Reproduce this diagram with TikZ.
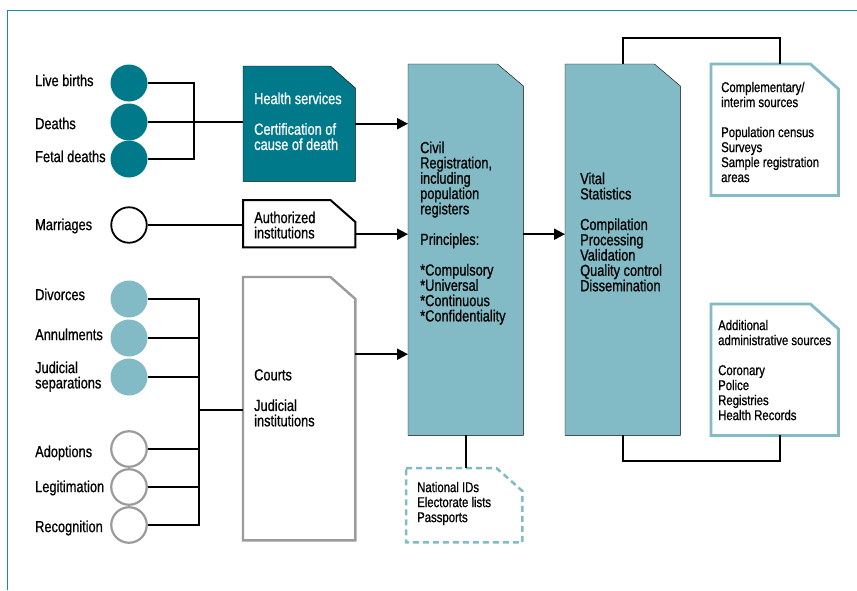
\documentclass[tikz,border=0pt]{standalone}
\usepackage{fontspec}
\setmainfont{Liberation Sans}[FakeStretch=0.8,FakeBold=0.8]
\usetikzlibrary{arrows.meta}

\definecolor{tealdark}{RGB}{0,121,138}
\definecolor{teallight}{RGB}{130,187,197}
\definecolor{framecol}{RGB}{30,138,155}
\definecolor{greyline}{RGB}{155,155,155}

% sheet with a cut top right corner, drawn round a named area node
\newcommand{\cutbox}[4][]{%
  \draw[#1] (#2.north west) -- ([xshift=-#3pt]#2.north east)
    -- ([yshift=-#4pt]#2.north east) -- (#2.south east)
    -- (#2.south west) -- cycle;}

\tikzset{
  lbl/.style={anchor=north west, inner sep=0pt, align=left, font=\fontsize{16}{15.3}\selectfont},
  note/.style={lbl, font=\fontsize{14.2}{15}\selectfont},
  evt/.style={circle, minimum size=37pt, inner sep=0pt},
  evtdark/.style={evt, fill=tealdark},
  evtlight/.style={evt, fill=teallight},
  evtopen/.style={evt, minimum size=35.5pt, draw=black, line width=1.8pt, fill=white},
  evtgrey/.style={evt, minimum size=35.5pt, draw=greyline, line width=2.2pt, fill=white},
  area/.style={anchor=north west, inner sep=0pt, draw=none},
  conn/.style={line width=2.1pt},
  arr/.style={conn, -{Triangle[length=11pt,width=11pt]}}
}

\begin{document}
\begin{tikzpicture}[x=1pt,y=-1pt]
\useasboundingbox (0,0) rectangle (857,590);
\draw[framecol, line width=1pt] (7,590) -- (7,10) -- (857,10);

% events
\node[evtdark] (live) at (129,83) {};
\node[evtdark] (deaths) at (129,122) {};
\node[evtdark] (fetal) at (129,159) {};
\node[evtopen] (marr) at (129,225) {};
\node[evtlight] (divorce) at (129,299) {};
\node[evtlight] (annul) at (129,338) {};
\node[evtlight] (judsep) at (129,377) {};
\node[evtgrey] (adopt) at (129,449) {};
\node[evtgrey] (legit) at (129,487) {};
\node[evtgrey] (recog) at (129,525) {};

\node[lbl] (livelbl) at (35,74.3) {Live births};
\node[lbl] (deathslbl) at (35,117.3) {Deaths};
\node[lbl] (fetallbl) at (35,150.3) {Fetal deaths};
\node[lbl] (marrlbl) at (35,218.3) {Marriages};
\node[lbl] (divorcelbl) at (35,288.3) {Divorces};
\node[lbl] (annullbl) at (35,328.3) {Annulments};
\node[lbl] (judseplbl) at (35,361.3) {Judicial\\separations};
\node[lbl] (adoptlbl) at (35,445.3) {Adoptions};
\node[lbl] (legitlbl) at (35,480.3) {Legitimation};
\node[lbl] (recoglbl) at (35,520.3) {Recognition};

% sheets
\node[area, minimum width=112pt, minimum height=115pt] (health) at (243,66) {};
\node[area, minimum width=112pt, minimum height=47pt] (auth) at (243,200) {};
\node[area, minimum width=112pt, minimum height=263pt] (courts) at (243,277) {};
\node[area, minimum width=115pt, minimum height=371pt] (civil) at (408,64) {};
\node[area, minimum width=115pt, minimum height=371pt] (vital) at (565,64) {};
\node[area, minimum width=127pt, minimum height=131pt] (compl) at (711,64) {};
\node[area, minimum width=127pt, minimum height=131pt] (addl) at (711,304) {};
\node[area, minimum width=116pt, minimum height=74pt] (natid) at (406,468) {};

\cutbox[fill=tealdark]{health}{25}{22}
\cutbox[draw=black, line width=2pt, fill=white]{auth}{25}{22}
\cutbox[draw=greyline, line width=2.4pt]{courts}{25}{22}
\cutbox[fill=teallight]{civil}{26}{22}
\cutbox[fill=teallight]{vital}{26}{22}
\cutbox[draw=teallight, line width=2.8pt]{compl}{28}{25}
\cutbox[draw=teallight, line width=2.8pt]{addl}{28}{25}
\cutbox[draw=teallight, line width=2.5pt, dash pattern=on 6pt off 4pt]{natid}{26}{23}

\node[lbl, text=white] (healthtxt) at (254,92.3) {Health services\\[15.3pt]Certification of\\cause of death};
\node[lbl] (authtxt) at (254,211.3) {Authorized\\institutions};
\node[lbl] (courtstxt) at (254,369) {Courts\\[15.3pt]Judicial\\institutions};
\node[lbl] (civiltxt) at (420,141.3) {Civil\\Registration,\\including\\population\\registers\\[15.3pt]Principles:\\[15.3pt]*Compulsory\\*Universal\\*Continuous\\*Confidentiality};
\node[lbl] (vitaltxt) at (580,172.3) {Vital\\Statistics\\[15.3pt]Compilation\\Processing\\Validation\\Quality control\\Dissemination};
\node[note] (compltxt) at (721,81.6) {Complementary/\\interim sources\\[15pt]Population census\\Surveys\\Sample registration\\areas};
\node[note] (addltxt) at (718,319.6) {Additional\\administrative sources\\[15pt]Coronary\\Police\\Registries\\Health Records};
\node[note] (natidtxt) at (417,481.6) {National IDs\\Electorate lists\\Passports};

% connectors
\coordinate (hub1) at (194,122);
\draw[conn] (live.east) -| (hub1) |- (fetal.east);
\draw[conn] (deaths.east) -- (deaths -| health.west);
\draw[conn] (marr.east) -- (marr -| auth.west);
\coordinate (hub3) at (199,410);
\draw[conn] (divorce.east) -| (hub3) |- (recog.east);
\draw[conn] (annul.east) -- (annul -| hub3);
\draw[conn] (judsep.east) -- (judsep -| hub3);
\draw[conn] (adopt.east) -- (adopt -| hub3);
\draw[conn] (legit.east) -- (legit -| hub3);
\draw[conn] (hub3) -- (hub3 -| courts.west);

\draw[arr] (health.east) -- (health.east -| civil.west);
\draw[arr] ([yshift=-10.5pt]auth.east) -- ([yshift=-10.5pt]auth.east -| civil.west);
\draw[arr] ([yshift=54.5pt]courts.east) -- ([yshift=54.5pt]courts.east -| civil.west);
\draw[arr] ([yshift=15.5pt]civil.east) -- ([yshift=15.5pt]civil.east -| vital.west);

\draw[conn] (vital.north) -- ++(0,-26) -| ([xshift=5pt]compl.north);
\draw[conn] (vital.south) -- ++(0,26) -| ([xshift=5pt]addl.south);
\draw[conn] (civil.south) -- (civil.south |- natid.north);
\end{tikzpicture}
\end{document}
